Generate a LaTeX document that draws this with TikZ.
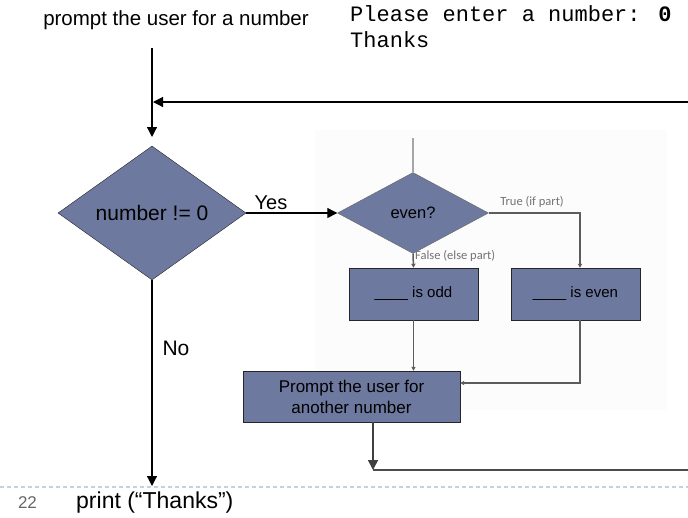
\documentclass[tikz,border=0pt]{standalone}
\usepackage{fontspec}
\setmainfont{Liberation Sans}
\newfontfamily\monofont{Liberation Mono}
\newfontfamily\labelfont{Carlito}
\usetikzlibrary{shapes.geometric,arrows.meta,positioning}
\definecolor{boxblue}{HTML}{6E799F}
\definecolor{picgray}{HTML}{5C5C5C}
\definecolor{dashblue}{HTML}{C3D1E0}
\tikzset{
  decision/.style={diamond,draw=black!85,fill=boxblue,inner sep=0pt},
  stepbox/.style={rectangle,draw=black!85,fill=boxblue,inner sep=0pt,align=center},
  mainline/.style={line width=1.2pt,-{Triangle[length=10pt,width=10pt]}},
  picline/.style={line width=1.5pt,draw=picgray,-{Triangle[length=4pt,width=4pt]}},
  side/.style={font=\labelfont\fontsize{12.5}{14}\selectfont,text=black!55,inner sep=0pt},
  plain/.style={inner sep=0pt}
}

\begin{document}
\begin{tikzpicture}[x=1pt,y=-1pt]
  \useasboundingbox (0,0) rectangle (688,517);
  \clip (0,0) rectangle (688,517);
  \fill[black!1] (315,130) rectangle (667,410);

  \node[plain,anchor=base,font=\fontsize{20.5}{24}\selectfont] (prompt) at (176,25) {prompt the user for a number};
  \node[plain,anchor=base west,font=\monofont\fontsize{22}{26}\selectfont] (outline1) at (350,21) {Please enter a number: \textbf{0}};
  \node[plain,anchor=base west,font=\monofont\fontsize{22}{26}\selectfont] (outline2) at (350,47) {Thanks};

  \node[decision,minimum width=188pt,minimum height=134pt,font=\fontsize{21}{24}\selectfont] (test) at (152,213) {number != 0};
  \node[decision,draw=black!60,minimum width=151pt,minimum height=81pt,font=\fontsize{16.5}{19}\selectfont] (even) at (413,213) {even?};
  \node[stepbox,minimum width=129pt,minimum height=52pt,font=\fontsize{15}{18}\selectfont] (odd) at (413.5,294) {\_\_\_\_ is odd};
  \node[stepbox,minimum width=129pt,minimum height=52pt,font=\fontsize{15}{18}\selectfont] (evenbox) at (575.5,294) {\_\_\_\_ is even};
  \node[stepbox,minimum width=217pt,minimum height=51pt,font=\fontsize{17}{21}\selectfont] (again) at (351.5,396.5) {Prompt the user for\\another number};

  \node[plain,font=\fontsize{20}{24}\selectfont] (yes) at (271,203) {Yes};
  \node[plain,font=\fontsize{21}{24}\selectfont] (no) at (176,348) {No};
  \node[side] (truelbl) at (532,202) {True (if part)};
  \node[side,anchor=west] (falselbl) at (415,256) {False (else part)};

  \coordinate (top) at (152,48);
  \coordinate (entry) at (152,137);
  \coordinate (back) at (688,102);
  \coordinate (join) at (153,102);
  \coordinate (exit) at (152,486);
  \coordinate (stub) at (413,138);
  \coordinate (truecorner) at (580,213);
  \coordinate (mergecorner) at (580,383);
  \coordinate (loopdown) at (373,470);
  \coordinate (loopright) at (698,470);

  \draw[mainline] (top) -- (entry);
  \draw[mainline] (back) -- (join);
  \draw[mainline] (test.east) -- (even.west);
  \draw[dashblue,line width=1.2pt,dash pattern=on 4pt off 3pt] (0,487) -- (688,487);
  \draw[mainline] (test.south) -- (exit);

  \draw[line width=2pt,draw=black!35] (stub) -- (even.north);
  \draw[picline] (even.east) -- (truecorner) -- (truecorner |- evenbox.north);
  \draw[picline] (even.south) -- (odd.north);
  \draw[picline] (odd.south) -- (odd.south |- again.north);
  \draw[picline] (truecorner |- evenbox.south) -- (mergecorner) -- (mergecorner -| again.east);

  \draw[line width=1.5pt,draw=black!75,-{Triangle[length=10pt,width=10pt]}] (again.south -| loopdown) -- (loopdown);
  \draw[line width=2pt,draw=black!70,-{Triangle[length=10pt,width=10pt]}] (loopdown) -- (loopright);

  \node[plain,text=black!60,font=\fontsize{17}{20}\selectfont] (slidenum) at (27.5,503) {22};
  \node[plain,anchor=west,font=\fontsize{23}{26}\selectfont] (printcall) at (76,503) {print (“Thanks")};
\end{tikzpicture}
\end{document}
